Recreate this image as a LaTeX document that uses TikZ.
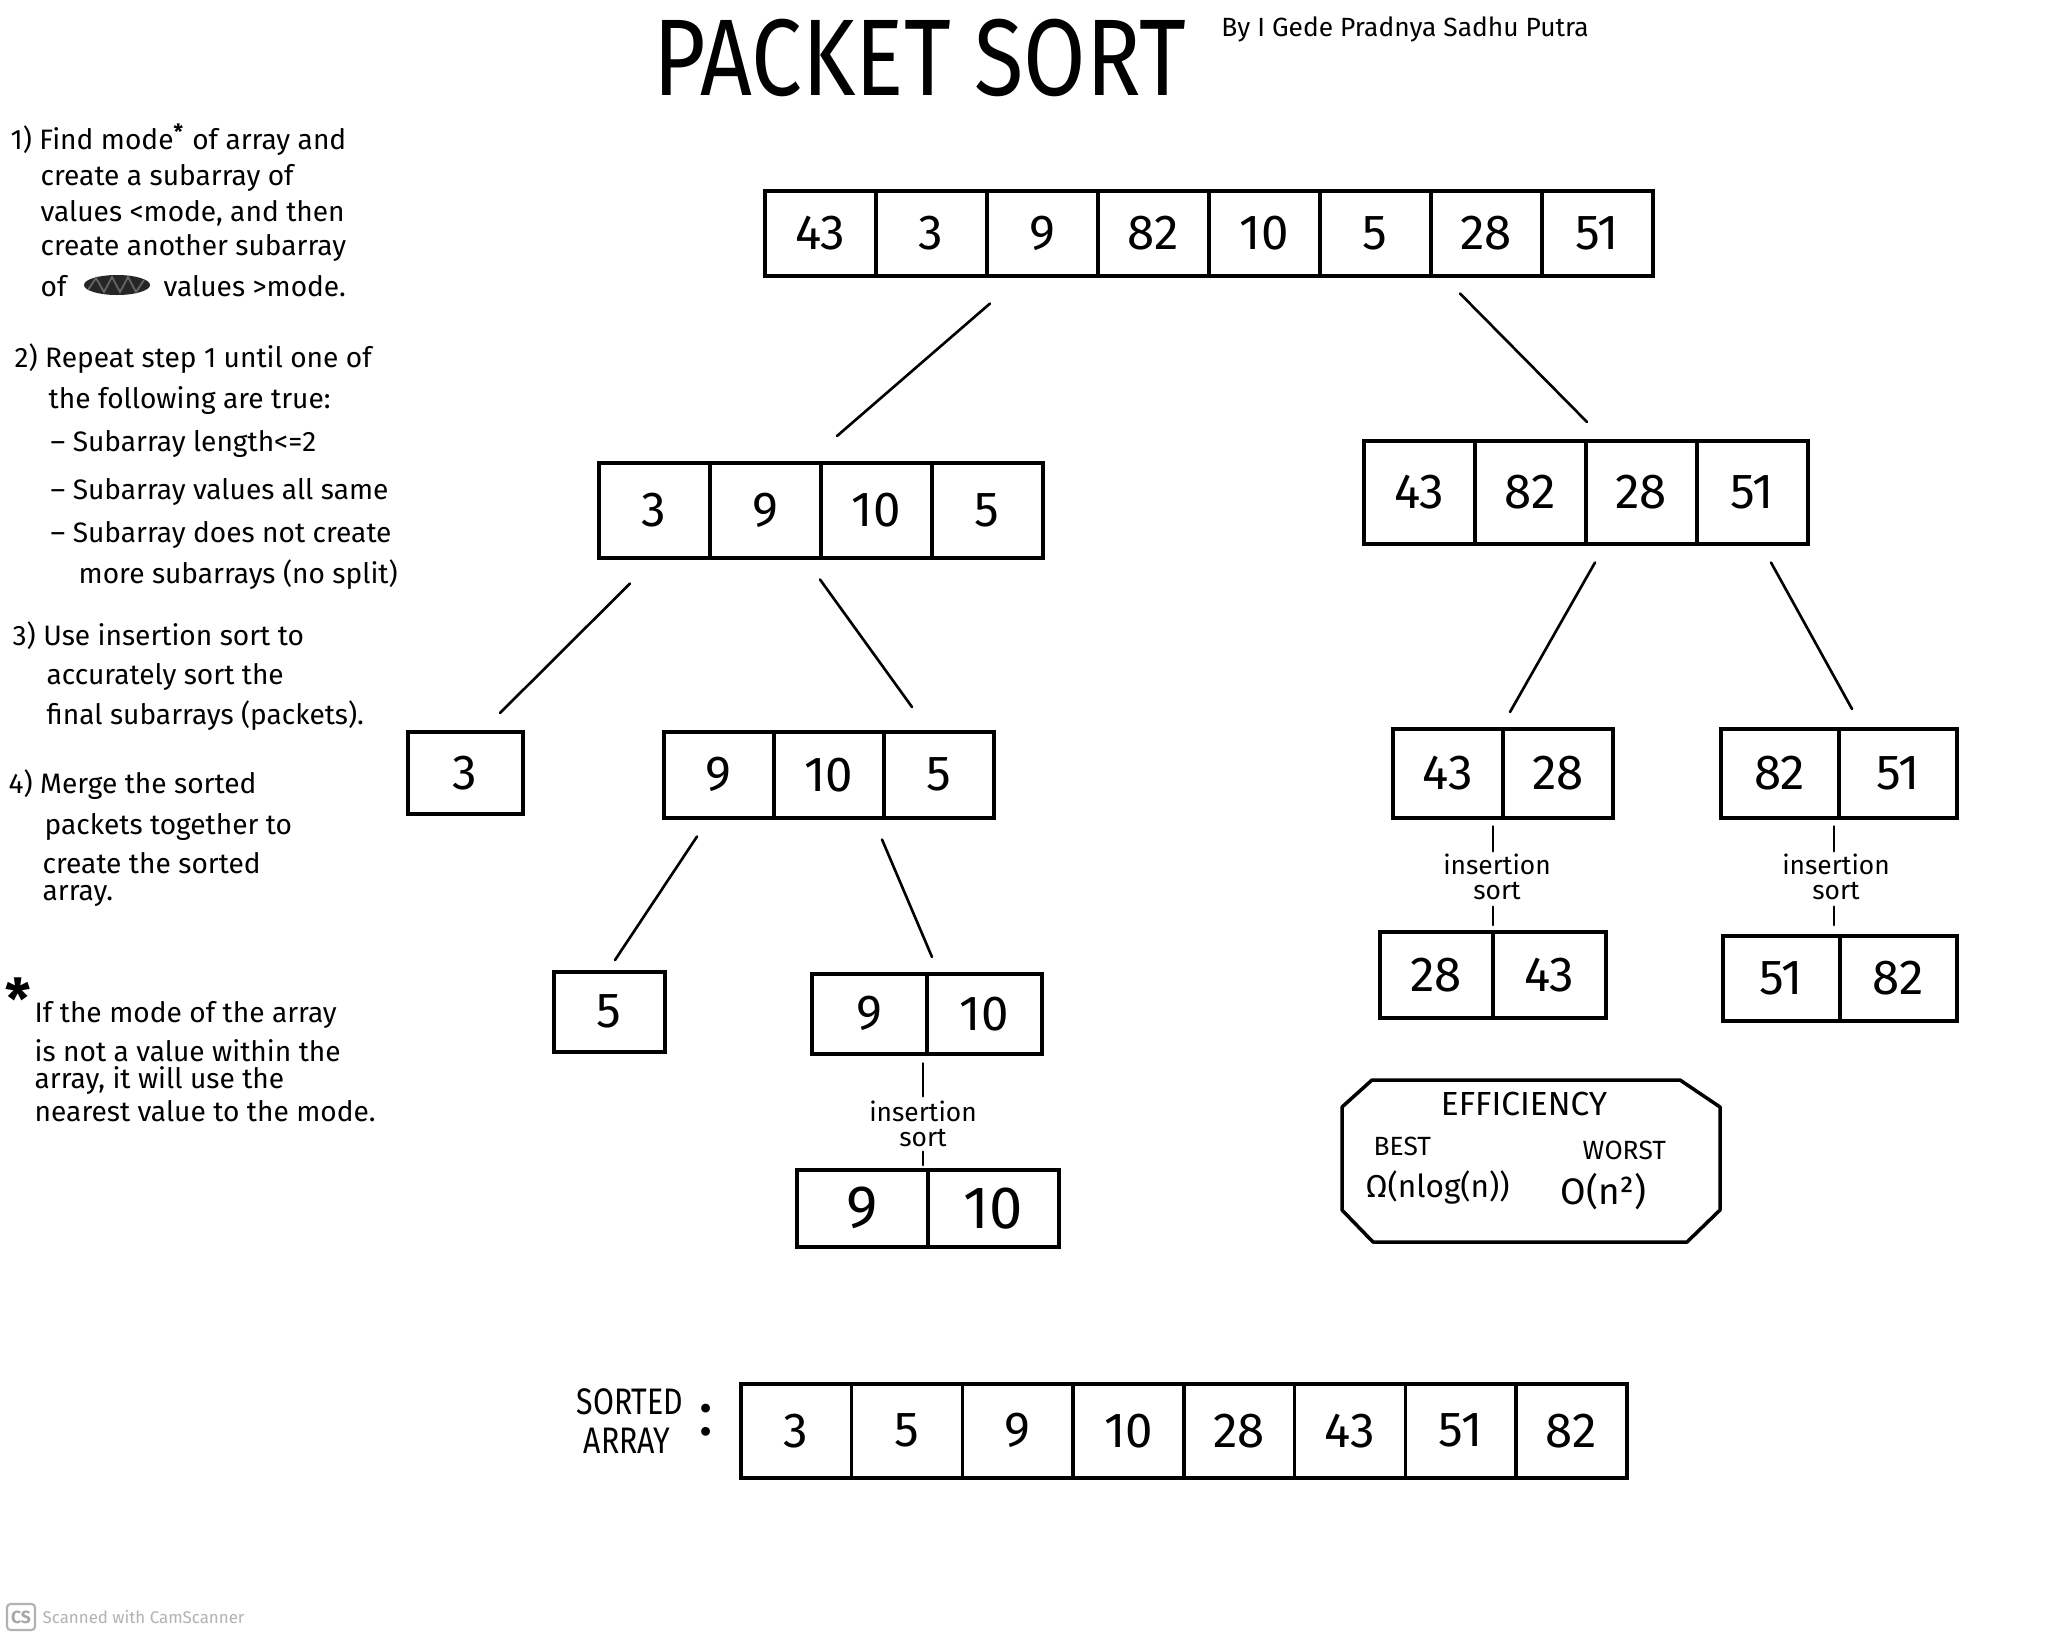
\documentclass[tikz,border=0pt]{standalone}
\usepackage{fontspec}
\usepackage{graphicx}
\setmainfont{Fira Sans}
\newfontfamily\titlefont[FakeStretch=0.83]{Fira Sans}
\newfontfamily\narrowfont[FakeStretch=0.82]{Fira Sans}
\usetikzlibrary{calc}
\tikzset{
  cell/.style={draw, line width=1pt, inner sep=0pt},
  conn/.style={line width=0.75pt, line cap=round},
  note/.style={anchor=west, inner sep=0pt, font=\fontsize{8}{9}\selectfont},
  tick/.style={line width=0.8pt, line cap=round},
  inslabel/.style={align=center, inner sep=0pt, font=\fontsize{7.5}{7.2}\selectfont},
}
\newcommand\pkarr[7]{%
  \foreach \v [count=\i] in {#7}{%
    \node[cell, minimum width=#4*0.1mm, minimum height=#5*0.1mm,
          font=\fontsize{#6}{#6}\selectfont, anchor=north west]
          (#1-\i) at ({#2+(\i-1)*#4},#3) {\v};
  }%
}
\begin{document}
\begin{tikzpicture}[x=0.1mm, y=-0.1mm]
\useasboundingbox (0,0) rectangle (2048,1638);
\fill[white] (0,0) rectangle (2048,1638);

% title
\node[inner sep=0pt, font=\titlefont\fontsize{31}{31}\selectfont] (title) at (920,58) {PACKET SORT};
\node[inner sep=0pt, font=\fontsize{7.5}{8}\selectfont] (by) at (1405,29) {By I Gede Pradnya Sadhu Putra};

% left column text
\node[note] (t1a) at (10,140) {1) Find mode\textsuperscript{\textbf{*}} of array and};
\node[note] (t1b) at (40,178) {create a subarray of};
\node[note] (t1c) at (40,213) {values <mode, and then};
\node[note] (t1d) at (40,248) {create another subarray};
\node[note] (t1e) at (40,286) {of};
\fill[black!85] (117,285) ellipse [x radius=33, y radius=10];
\draw[black!60, line width=0.5pt] (88,290) -- (96,278) -- (104,292) -- (112,277) -- (120,292) -- (128,277) -- (136,292) -- (144,280);
\node[note] (t1f) at (163,286) {values >mode.};
\node[note] (t2a) at (14,359) {2) Repeat step 1 until one of};
\node[note] (t2b) at (48,401) {the following are true:};
\node[note] (t2c) at (50,444) {– Subarray length<=2};
\node[note] (t2d) at (50,492) {– Subarray values all same};
\node[note] (t2e) at (50,535) {– Subarray does not create};
\node[note] (t2f) at (78,575) {more subarrays (no split)};
\node[note] (t3a) at (12,636) {3) Use insertion sort to};
\node[note] (t3b) at (46,677) {accurately sort the};
\node[note] (t3c) at (46,716) {final subarrays (packets).};
\node[note] (t4a) at (8,785) {4) Merge the sorted};
\node[note] (t4b) at (44,827) {packets together to};
\node[note] (t4c) at (42,863) {create the sorted};
\node[note] (t4d) at (42,896) {array.};
\node[inner sep=0pt, font=\bfseries\fontsize{16}{16}\selectfont] (star) at (18,999) {*};
\node[note] (n1) at (34,1015) {If the mode of the array};
\node[note] (n2) at (34,1051) {is not a value within the};
\node[note] (n3) at (34,1081) {array, it will use the};
\node[note] (n4) at (34,1111) {nearest value to the mode.};

% arrays
\pkarr{top}{763}{189}{111}{85}{14}{43,3,9,82,10,5,28,51}
\pkarr{lA}{597}{461}{111}{95}{14}{3,9,10,5}
\pkarr{rA}{1362}{439}{111}{103}{14}{43,82,28,51}
\pkarr{lB}{406}{730}{115}{82}{14}{3}
\pkarr{lC}{662}{730}{110}{86}{14}{9,10,5}
\pkarr{rB}{1391}{727}{110}{89}{14}{43,28}
\pkarr{rC}{1719}{727}{118}{89}{14}{82,51}
\pkarr{lD}{552}{970}{111}{80}{14}{5}
\pkarr{lE}{810}{972}{115}{80}{14}{9,10}
\pkarr{rD}{1378}{930}{113}{86}{14}{28,43}
\pkarr{rE}{1721}{934}{117}{85}{14}{51,82}
\pkarr{lF}{795}{1168}{131}{77}{17}{9,10}
\pkarr{srt}{739}{1382}{110.75}{94}{14}{3,5,9,10,28,43,51,82}

% connectors
\draw[conn] ($(top-3.south west)+(5,26)$) -- ($(lA-3.north west)+(18,-25)$);
\draw[conn] ($(top-7.south west)+(31,16)$) -- ($(rA-3.north west)+(3,-17)$);
\draw[conn] ($(lA-1.south west)+(33,24)$) -- ($(lB-1.north west)+(94,-17)$);
\draw[conn] ($(lA-3.south west)+(1,20)$) -- ($(lC-3.north west)+(30,-23)$);
\draw[conn] ($(rA-3.south west)+(11,17)$) -- ($(rB-2.north west)+(9,-15)$);
\draw[conn] ($(rA-4.south west)+(76,17)$) -- ($(rC-2.north west)+(15,-18)$);
\draw[conn] ($(lC-1.south west)+(35,17)$) -- ($(lD-1.north west)+(63,-10)$);
\draw[conn] ($(lC-3.south west)+(0,20)$) -- ($(lE-2.north west)+(7,-15)$);

% insertion sort labels
\node[inslabel] (ins1) at (923,1124) {insertion\\sort};
\draw[tick] ($(ins1.north|-lE-1.south)+(0,8)$) -- ($(ins1.north)+(0,-4)$);
\draw[tick] ($(ins1.south)+(0,4)$) -- ($(ins1.south|-lF-1.north)+(0,-3)$);
\node[inslabel] (ins2) at (1497,877) {insertion\\sort};
\draw[tick] ($(ins2.north|-rB-1.south)+(-4,7)$) -- ($(ins2.north)+(-4,-2)$);
\draw[tick] ($(ins2.south)+(-4,6)$) -- ($(ins2.south|-rD-1.north)+(-4,-5)$);
\node[inslabel] (ins3) at (1836,877) {insertion\\sort};
\draw[tick] ($(ins3.north|-rC-1.south)+(-2,7)$) -- ($(ins3.north)+(-2,-2)$);
\draw[tick] ($(ins3.south)+(-2,6)$) -- ($(ins3.south|-rE-1.north)+(-2,-9)$);

% efficiency box
\draw[line width=1pt, line join=round] (1342,1107) -- (1372,1080) -- (1680,1080) -- (1720,1107) -- (1720,1210) -- (1687,1242) -- (1373,1242) -- (1342,1210) -- cycle;
\node[inner sep=0pt, font=\fontsize{9.5}{10}\selectfont] (effT) at (1524,1104) {EFFICIENCY};
\node[anchor=west, inner sep=0pt, font=\fontsize{7.5}{8}\selectfont] (best) at (1373,1146) {BEST};
\node[anchor=west, inner sep=0pt, font=\fontsize{7.5}{8}\selectfont] (worst) at (1582,1150) {WORST};
\node[anchor=west, inner sep=0pt, font=\fontsize{9}{10}\selectfont] (omega) at (1365,1187) {Ω(nlog(n))};
\node[anchor=west, inner sep=0pt, font=\fontsize{10.5}{11}\selectfont] (bigo) at (1560,1192) {O(n²)};

% sorted label
\node[inner sep=0pt, font=\narrowfont\fontsize{10.5}{11}\selectfont] (sortedL) at (630,1402) {SORTED};
\node[inner sep=0pt, font=\narrowfont\fontsize{10.5}{11}\selectfont] (arrayL) at (627,1441) {ARRAY};
\node[inner sep=0pt, font=\fontsize{18}{18}\selectfont] (colon) at (706,1420) {:};

% watermark
\node[draw=black!30, fill=white, rounded corners=1pt, line width=0.6pt, minimum width=2.8mm, minimum height=2.6mm, inner sep=0pt, text=black!35, font=\bfseries\fontsize{5}{5}\selectfont] (cs) at (21,1617) {CS};
\node[anchor=west, inner sep=0pt, text=black!30, font=\fontsize{4.8}{5}\selectfont] (wm) at (42,1617) {Scanned with CamScanner};
\end{tikzpicture}
\end{document}
